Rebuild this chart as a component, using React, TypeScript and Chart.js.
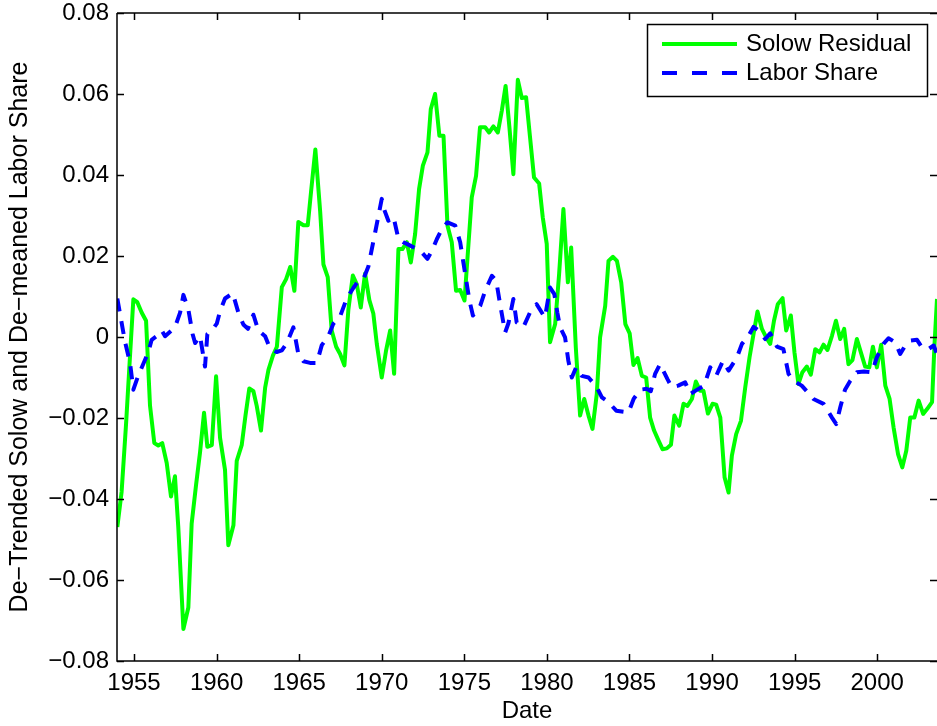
import React, { useEffect, useRef } from 'react';
import { Chart, registerables } from 'chart.js';

Chart.register(...registerables);

const solowYears = [
  1953.99, 1954.25, 1954.52, 1954.72, 1954.96, 1955.2, 1955.47, 1955.73, 1955.97, 1956.23,
  1956.47, 1956.71, 1956.98, 1957.24, 1957.48, 1957.68, 1957.99, 1958.29, 1958.49, 1958.76,
  1959.0, 1959.24, 1959.44, 1959.71, 1959.97, 1960.21, 1960.51, 1960.71, 1961.02, 1961.22,
  1961.52, 1961.75, 1961.98, 1962.23, 1962.43, 1962.69, 1962.94, 1963.14, 1963.41, 1963.65,
  1963.95, 1964.21, 1964.46, 1964.71, 1964.95, 1965.26, 1965.52, 1965.72, 1965.98, 1966.27,
  1966.47, 1966.73, 1966.97, 1967.24, 1967.48, 1967.74, 1967.98, 1968.25, 1968.49, 1968.73,
  1968.99, 1969.25, 1969.49, 1969.7, 1970.0, 1970.26, 1970.51, 1970.75, 1971.01, 1971.25,
  1971.52, 1971.76, 1972.02, 1972.26, 1972.49, 1972.77, 1972.97, 1973.23, 1973.49, 1973.74,
  1973.98, 1974.24, 1974.5, 1974.75, 1975.01, 1975.45, 1975.71, 1975.95, 1976.26, 1976.5,
  1976.76, 1977.03, 1977.27, 1977.5, 1977.73, 1977.97, 1978.24, 1978.48, 1978.74, 1978.98,
  1979.22, 1979.53, 1979.75, 1979.99, 1980.19, 1980.5, 1980.74, 1981.0, 1981.27, 1981.47,
  1981.75, 1982.01, 1982.26, 1982.52, 1982.76, 1983.02, 1983.22, 1983.53, 1983.73, 1984.0,
  1984.24, 1984.5, 1984.75, 1985.01, 1985.24, 1985.49, 1985.75, 1986.01, 1986.25, 1986.49,
  1986.76, 1987.0, 1987.26, 1987.51, 1987.72, 1988.01, 1988.27, 1988.51, 1988.78, 1989.02,
  1989.28, 1989.48, 1989.75, 1990.03, 1990.25, 1990.5, 1990.76, 1991.0, 1991.2, 1991.46,
  1991.75, 1992.01, 1992.27, 1992.51, 1992.75, 1993.02, 1993.28, 1993.52, 1993.75, 1993.98,
  1994.27, 1994.49, 1994.77, 1994.99, 1995.23, 1995.47, 1995.74, 1995.98, 1996.25, 1996.51,
  1996.75, 1996.99, 1997.26, 1997.5, 1997.76, 1998.0, 1998.26, 1998.5, 1998.77, 1999.01,
  1999.27, 1999.52, 1999.74, 1999.98, 2000.24, 2000.49, 2000.75, 2000.99, 2001.26, 2001.52,
  2001.76, 2002.0, 2002.25, 2002.51, 2002.78, 2003.02, 2003.32, 2003.46, 2003.62,
];

const solowValues = [
  -0.0469, -0.0382, -0.0214, -0.0073, 0.0093, 0.0086, 0.006, 0.004, -0.017, -0.0262,
  -0.0268, -0.0262, -0.0311, -0.0394, -0.0344, -0.0469, -0.0721, -0.0668, -0.0461, -0.0364,
  -0.0284, -0.0187, -0.0271, -0.0267, -0.0097, -0.0249, -0.0328, -0.0514, -0.0465, -0.0306,
  -0.0267, -0.0194, -0.0127, -0.0134, -0.017, -0.0231, -0.0125, -0.0081, -0.0046, -0.0024,
  0.0123, 0.0143, 0.0173, 0.0114, 0.0284, 0.0276, 0.0276, 0.0359, 0.0463, 0.0311,
  0.0179, 0.0148, 0.0016, -0.0024, -0.0042, -0.007, 0.0068, 0.0152, 0.013, 0.0073,
  0.0157, 0.0091, 0.0058, -0.0017, -0.01, -0.0034, 0.0016, -0.0091, 0.0217, 0.0217,
  0.0234, 0.0184, 0.0254, 0.0365, 0.0423, 0.0456, 0.0563, 0.06, 0.0497, 0.0497,
  0.0275, 0.0234, 0.0114, 0.0116, 0.009, 0.0345, 0.0398, 0.0518, 0.0518, 0.0505,
  0.052, 0.0505, 0.0559, 0.062, 0.0518, 0.0402, 0.0635, 0.059, 0.0592, 0.0493,
  0.0394, 0.0379, 0.0295, 0.023, -0.0013, 0.0032, 0.0156, 0.0316, 0.0135, 0.0221,
  -0.0026, -0.0194, -0.0153, -0.0194, -0.0227, -0.0141, -0.0001, 0.0077, 0.0188, 0.0198,
  0.0188, 0.0135, 0.0032, 0.0009, -0.0069, -0.0052, -0.0096, -0.01, -0.0199, -0.0231,
  -0.0256, -0.0277, -0.0275, -0.0266, -0.0194, -0.0219, -0.0165, -0.017, -0.0153, -0.011,
  -0.0133, -0.0133, -0.0189, -0.0165, -0.0167, -0.0199, -0.0347, -0.0384, -0.0293, -0.024,
  -0.0207, -0.0124, -0.005, 0.0007, 0.0063, 0.002, -0.0001, -0.0017, 0.004, 0.0081,
  0.0096, 0.0016, 0.0053, -0.0038, -0.0116, -0.0087, -0.0073, -0.0093, -0.003, -0.0038,
  -0.0019, -0.0032, 0.0003, 0.004, -0.0005, 0.002, -0.0067, -0.0057, -0.0005, -0.0038,
  -0.0073, -0.0075, -0.0024, -0.0075, -0.0019, -0.012, -0.0153, -0.0223, -0.0289, -0.0322,
  -0.0281, -0.0199, -0.0199, -0.0157, -0.019, -0.0178, -0.0161, -0.0026, 0.0094,
];

const laborYears = [
  1953.99, 1954.45, 1954.76, 1954.96, 1955.26, 1955.87, 1956.07, 1956.37, 1956.68, 1956.88,
  1957.48, 1957.79, 1957.99, 1958.29, 1958.55, 1958.7, 1959.0, 1959.3, 1959.44, 1959.71,
  1960.01, 1960.21, 1960.51, 1960.98, 1961.32, 1961.62, 1961.9, 1962.23, 1962.53, 1962.94,
  1963.24, 1963.64, 1963.95, 1964.25, 1964.65, 1964.95, 1965.26, 1965.66, 1966.07, 1966.37,
  1966.77, 1967.07, 1967.48, 1967.88, 1968.28, 1968.59, 1968.89, 1969.19, 1969.6, 1970.0,
  1970.1, 1970.4, 1970.71, 1971.01, 1971.31, 1971.52, 1972.0, 1972.42, 1972.77, 1973.04,
  1973.34, 1973.65, 1973.98, 1974.45, 1974.75, 1975.05, 1975.31, 1975.52, 1975.96, 1976.26,
  1976.67, 1976.93, 1977.17, 1977.47, 1977.67, 1977.97, 1978.17, 1978.57, 1978.98, 1979.38,
  1979.88, 1980.19, 1980.45, 1980.63, 1980.8, 1981.1, 1981.3, 1981.51, 1981.77, 1982.11,
  1982.52, 1983.02, 1983.33, 1983.73, 1984.2, 1984.94, 1985.25, 1985.65, 1986.05, 1986.29,
  1986.55, 1986.85, 1987.3, 1987.56, 1987.95, 1988.37, 1988.68, 1988.98, 1989.52, 1989.89,
  1990.25, 1990.66, 1991.0, 1991.51, 1991.81, 1992.21, 1992.51, 1992.81, 1993.22, 1993.52,
  1993.93, 1994.32, 1994.63, 1994.93, 1995.43, 1996.14, 1996.75, 1997.26, 1997.52, 1997.76,
  1998.05, 1998.37, 1998.77, 1999.2, 1999.68, 1999.98, 2000.38, 2000.68, 2001.09, 2001.39,
  2001.7, 2002.0, 2002.41, 2002.71, 2003.1, 2003.42, 2003.62,
];

const laborValues = [
  0.0095, -0.0011, -0.0064, -0.013, -0.0095, -0.0037, -0.0007, 0.0002, 0.0016, 0.0002,
  0.0024, 0.006, 0.0104, 0.0068, 0.0007, -0.0015, 0.0002, -0.0073, 0.0007, 0.0016,
  0.0033, 0.0064, 0.0095, 0.0108, 0.006, 0.0031, 0.002, 0.0055, 0.0016, 0.0002,
  -0.0029, -0.0037, -0.0033, -0.0015, 0.0024, -0.0042, -0.006, -0.0064, -0.0064, -0.002,
  0.0002, 0.0033, 0.0051, 0.0095, 0.0121, 0.0139, 0.0143, 0.0174, 0.0258, 0.0341,
  0.032, 0.0287, 0.0297, 0.0242, 0.0234, 0.023, 0.022, 0.0209, 0.0193, 0.0213,
  0.0242, 0.0267, 0.0283, 0.0275, 0.0234, 0.0156, 0.009, 0.0053, 0.0077, 0.0114,
  0.0151, 0.0139, 0.008, 0.0011, 0.0034, 0.0094, 0.0036, 0.0024, 0.0061, 0.0081,
  0.0048, 0.0122, 0.0106, 0.0061, 0.0024, -0.0001, -0.0059, -0.01, -0.0075, -0.0096,
  -0.01, -0.0124, -0.0149, -0.0161, -0.0182, -0.0186, -0.0153, -0.013, -0.0128, -0.0134,
  -0.0091, -0.0067, -0.0104, -0.0124, -0.012, -0.0112, -0.0141, -0.0133, -0.012, -0.0075,
  -0.0096, -0.0059, -0.0083, -0.005, -0.0017, 0.0003, 0.0025, 0.0016, -0.0005, 0.0009,
  -0.0024, -0.003, -0.0091, -0.0108, -0.012, -0.0153, -0.0165, -0.0199, -0.0215, -0.0174,
  -0.013, -0.0108, -0.0087, -0.0085, -0.0087, -0.005, -0.0017, -0.0003, -0.0013, -0.0042,
  -0.0021, -0.0009, -0.0007, -0.0026, -0.003, -0.0021, -0.0042,
];

const xTicks = [1955, 1960, 1965, 1970, 1975, 1980, 1985, 1990, 1995, 2000];
const xTickLabels = ['1955', '1960', '1965', '1970', '1975', '1980', '1985', '1990', '1995', '2000'];
const yTicks = [-0.08, -0.06, -0.04, -0.02, 0, 0.02, 0.04, 0.06, 0.08];
const yTickLabels = ['\u22120.08', '\u22120.06', '\u22120.04', '\u22120.02', '0', '0.02', '0.04', '0.06', '0.08'];
const seriesNames = ['Solow Residual', 'Labor Share'];
const xTitle = 'Date';
const yTitle = 'De\u2212Trended Solow and De\u2212meaned Labor Share';

const FONT = '"Liberation Sans", Arial, Helvetica, sans-serif';
const GREEN = '#00ff00';
const BLUE = '#0000ff';

const framePlugin = {
  id: 'matlabFrame',
  afterDraw(chart: any) {
    const { ctx, chartArea, scales } = chart;
    const { left, right, top, bottom } = chartArea;
    const x = scales.x;
    const y = scales.y;
    ctx.save();
    ctx.strokeStyle = '#000';
    ctx.lineWidth = 1.5;
    ctx.setLineDash([]);
    ctx.beginPath();
    ctx.moveTo(left, top);
    ctx.lineTo(left, bottom);
    ctx.lineTo(right, bottom);
    ctx.moveTo(left, top);
    ctx.lineTo(right, top);
    const tl = 7;
    xTicks.forEach((v) => {
      const px = Math.round(x.getPixelForValue(v)) + 0.5;
      ctx.moveTo(px, bottom);
      ctx.lineTo(px, bottom - tl);
      ctx.moveTo(px, top);
      ctx.lineTo(px, top + tl);
    });
    yTicks.forEach((v) => {
      const py = Math.round(y.getPixelForValue(v)) + 0.5;
      ctx.moveTo(left, py);
      ctx.lineTo(left + tl, py);
      ctx.moveTo(right, py);
      ctx.lineTo(right - tl, py);
    });
    ctx.stroke();

    // legend
    const bx = 647, by = 24, bw = 280, bh = 72;
    ctx.fillStyle = '#fff';
    ctx.fillRect(bx, by, bw, bh);
    ctx.lineWidth = 1.5;
    ctx.strokeStyle = '#000';
    ctx.strokeRect(bx + 0.5, by + 0.5, bw, bh);
    const rows = [
      { name: seriesNames[0], color: GREEN, dash: [] as number[], y: 44 },
      { name: seriesNames[1], color: BLUE, dash: [15, 15], y: 73 },
    ];
    rows.forEach((r) => {
      ctx.beginPath();
      ctx.strokeStyle = r.color;
      ctx.lineWidth = 4;
      ctx.lineCap = 'butt';
      ctx.setLineDash(r.dash);
      ctx.moveTo(662, r.y);
      ctx.lineTo(737, r.y);
      ctx.stroke();
      ctx.setLineDash([]);
      ctx.fillStyle = '#000';
      ctx.font = `24px ${FONT}`;
      ctx.textAlign = 'left';
      ctx.textBaseline = 'middle';
      ctx.fillText(r.name, 746, r.y);
    });
    ctx.restore();
  },
};

export default function App() {
  const canvasRef = useRef<HTMLCanvasElement | null>(null);

  useEffect(() => {
    const canvas = canvasRef.current;
    if (!canvas) return;
    const solowPoints = solowYears.map((yr, i) => ({ x: yr, y: solowValues[i] }));
    const laborPoints = laborYears.map((yr, i) => ({ x: yr, y: laborValues[i] }));

    const chart = new Chart(canvas, {
      type: 'line',
      data: {
        datasets: [
          {
            label: seriesNames[1],
            data: laborPoints,
            borderColor: BLUE,
            backgroundColor: BLUE,
            borderWidth: 4,
            borderDash: [13, 10],
            borderCapStyle: 'butt',
            borderJoinStyle: 'round',
            pointRadius: 0,
            tension: 0,
            fill: false,
          },
          {
            label: seriesNames[0],
            data: solowPoints,
            borderColor: GREEN,
            backgroundColor: GREEN,
            borderWidth: 4,
            borderJoinStyle: 'round',
            pointRadius: 0,
            tension: 0,
            fill: false,
          },
        ],
      },
      options: {
        animation: false,
        responsive: false,
        devicePixelRatio: 1,
        parsing: false,
        normalized: true,
        layout: { padding: { top: 13, left: 0, right: 0, bottom: 0 } },
        plugins: {
          legend: { display: false },
          tooltip: { enabled: false },
        },
        scales: {
          x: {
            type: 'linear',
            min: 1953.97,
            max: 2003.62,
            afterBuildTicks: (s: any) => {
              s.ticks = xTicks.map((v) => ({ value: v }));
            },
            afterFit: (s: any) => {
              s.height = 65;
              s.paddingLeft = 0;
              s.paddingRight = 0;
            },
            grid: { display: false, drawTicks: false },
            border: { display: false },
            ticks: {
              autoSkip: false,
              maxRotation: 0,
              padding: 8,
              color: '#000',
              font: { family: FONT, size: 24 },
              callback: (v: any) => {
                const i = xTicks.indexOf(v);
                return i >= 0 ? xTickLabels[i] : '';
              },
            },
            title: {
              display: true,
              text: xTitle,
              color: '#000',
              font: { family: FONT, size: 24 },
              padding: { top: 0, bottom: 0 },
            },
          },
          y: {
            type: 'linear',
            min: -0.08,
            max: 0.08,
            afterBuildTicks: (s: any) => {
              s.ticks = yTicks.map((v) => ({ value: v }));
            },
            afterFit: (s: any) => {
              s.width = 117;
              s.paddingTop = 0;
              s.paddingBottom = 0;
            },
            grid: { display: false, drawTicks: false },
            border: { display: false },
            ticks: {
              autoSkip: false,
              padding: 8,
              color: '#000',
              font: { family: FONT, size: 24, lineHeight: 1 },
              callback: (v: any) => {
                const i = yTicks.findIndex((t) => Math.abs(t - v) < 1e-9);
                return i >= 0 ? yTickLabels[i] : '';
              },
            },
            title: {
              display: true,
              text: yTitle,
              color: '#000',
              font: { family: FONT, size: 25 },
              padding: { top: 5.2, bottom: 0 },
            },
          },
        },
      },
      plugins: [framePlugin],
    } as any);

    return () => {
      chart.destroy();
    };
  }, []);

  return (
    <div
      style={{
        position: 'fixed',
        left: 0,
        top: 0,
        width: 937,
        height: 726,
        background: '#fff',
        overflow: 'hidden',
      }}
    >
      <canvas
        ref={canvasRef}
        width={937}
        height={726}
        style={{ display: 'block', width: 937, height: 726 }}
      />
    </div>
  );
}
